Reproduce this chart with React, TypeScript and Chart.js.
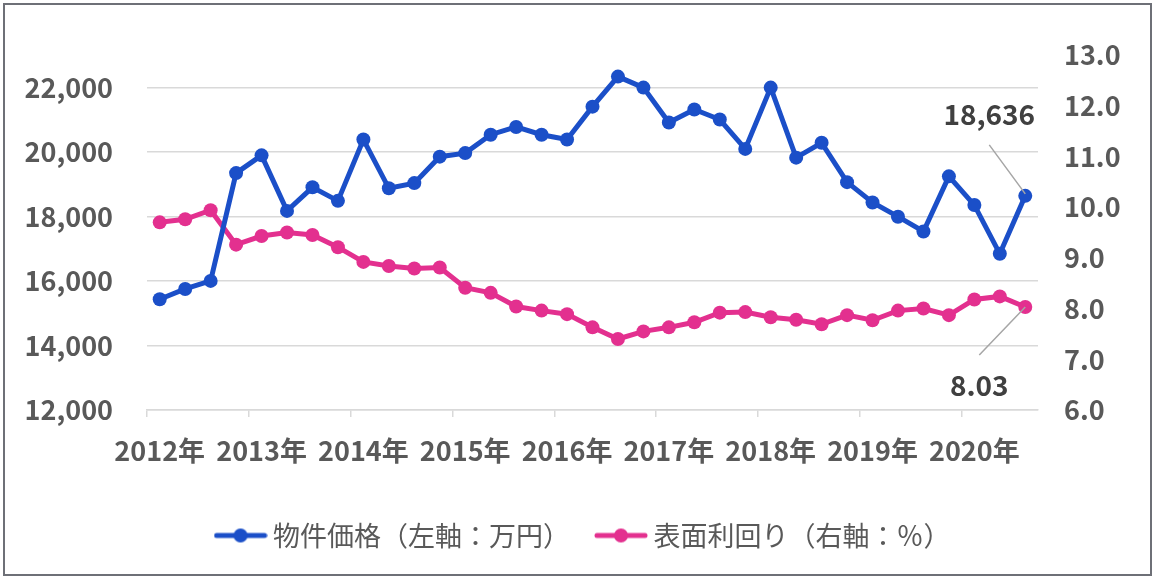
import React, { useEffect, useRef } from "react";
import { Chart, registerables } from "chart.js";

Chart.register(...registerables);

// ---- data ----
const categories = [
  "2012Q1", "2012Q2", "2012Q3", "2012Q4",
  "2013Q1", "2013Q2", "2013Q3", "2013Q4",
  "2014Q1", "2014Q2", "2014Q3", "2014Q4",
  "2015Q1", "2015Q2", "2015Q3", "2015Q4",
  "2016Q1", "2016Q2", "2016Q3", "2016Q4",
  "2017Q1", "2017Q2", "2017Q3", "2017Q4",
  "2018Q1", "2018Q2", "2018Q3", "2018Q4",
  "2019Q1", "2019Q2", "2019Q3", "2019Q4",
  "2020Q1", "2020Q2", "2020Q3",
];

const yearLabels = ["2012年", "2013年", "2014年", "2015年", "2016年", "2017年", "2018年", "2019年", "2020年"];

const leftTicks = [12000, 14000, 16000, 18000, 20000, 22000];
const rightTicks = [6, 7, 8, 9, 10, 11, 12, 13];

const priceValues = [
  15430, 15750, 16000, 19340, 19890, 18170, 18900, 18480,
  20380, 18870, 19030, 19850, 19960, 20530, 20770, 20530,
  20380, 21400, 22330, 21990, 20910, 21310, 21000, 20090,
  21990, 19820, 20280, 19060, 18430, 17990, 17530, 19240,
  18350, 16840, 18636,
];

const yieldValues = [
  9.70, 9.76, 9.94, 9.26, 9.43, 9.50, 9.45, 9.21,
  8.92, 8.84, 8.79, 8.81, 8.41, 8.31, 8.04, 7.96,
  7.89, 7.63, 7.40, 7.55, 7.63, 7.73, 7.92, 7.93,
  7.83, 7.78, 7.69, 7.87, 7.77, 7.96, 8.00, 7.87,
  8.18, 8.24, 8.03,
];

const seriesNames = ["物件価格（左軸：万円）", "表面利回り（右軸：％）"];

const BLUE = "#1B4FC8";
const PINK = "#E3308F";
const GRID = "#D9D9D9";
const TEXT = "#595959";
const FONT = "'Noto Sans CJK JP', 'Noto Sans', sans-serif";

function makeMarker(color: string): HTMLCanvasElement {
  const c = document.createElement("canvas");
  c.width = 54;
  c.height = 16;
  const ctx = c.getContext("2d")!;
  ctx.strokeStyle = color;
  ctx.lineWidth = 5;
  ctx.lineCap = "round";
  ctx.beginPath();
  ctx.moveTo(3, 8);
  ctx.lineTo(51, 8);
  ctx.stroke();
  ctx.fillStyle = color;
  ctx.beginPath();
  ctx.arc(27, 8, 7, 0, Math.PI * 2);
  ctx.fill();
  return c;
}

const lastLabelPlugin = {
  id: "lastLabels",
  afterDatasetsDraw(chart: any) {
    const ctx = chart.ctx;
    const m0 = chart.getDatasetMeta(0);
    const m1 = chart.getDatasetMeta(1);
    const p0 = m0.data[m0.data.length - 1];
    const p1 = m1.data[m1.data.length - 1];
    const v0 = priceValues[priceValues.length - 1];
    const v1 = yieldValues[yieldValues.length - 1];
    ctx.save();
    ctx.strokeStyle = "#A6A6A6";
    ctx.lineWidth = 1.5;
    ctx.beginPath();
    ctx.moveTo(p0.x - 36, p0.y - 51);
    ctx.lineTo(p0.x, p0.y - 2);
    ctx.moveTo(p1.x - 46, p1.y + 48);
    ctx.lineTo(p1.x, p1.y);
    ctx.stroke();
    ctx.fillStyle = "#404040";
    ctx.font = `bold 28px ${FONT}`;
    ctx.textAlign = "center";
    ctx.textBaseline = "middle";
    ctx.fillText(v0.toLocaleString("en-US"), p0.x - 36, p0.y - 81);
    ctx.fillText(v1.toFixed(2), p1.x - 46, p1.y + 78);
    ctx.restore();
  },
};

export default function App() {
  const ref = useRef<HTMLCanvasElement>(null);

  useEffect(() => {
    if (!ref.current) return;
    const markers = [makeMarker(BLUE), makeMarker(PINK)];
    const tickFont = { family: FONT, size: 27, weight: "bold" as const };
    const xTickColor = (c: any) =>
      c.type === "tick" && c.index % 4 === 0 ? GRID : "rgba(0,0,0,0)";

    const chart = new Chart(ref.current, {
      type: "line",
      data: {
        labels: categories,
        datasets: [
          {
            label: seriesNames[0],
            data: priceValues,
            yAxisID: "y",
            borderColor: BLUE,
            backgroundColor: BLUE,
            borderWidth: 5,
            pointRadius: 7,
            pointBorderWidth: 0,
            pointBackgroundColor: BLUE,
            tension: 0,
          },
          {
            label: seriesNames[1],
            data: yieldValues,
            yAxisID: "y1",
            borderColor: PINK,
            backgroundColor: PINK,
            borderWidth: 5,
            pointRadius: 7,
            pointBorderWidth: 0,
            pointBackgroundColor: PINK,
            tension: 0,
          },
        ],
      },
      options: {
        responsive: false,
        animation: false,
        devicePixelRatio: 1,
        layout: { padding: { left: 16, right: 0, top: 55, bottom: 21 } },
        plugins: {
          legend: {
            position: "bottom",
            labels: {
              usePointStyle: true,
              pointStyleWidth: 38,
              boxHeight: 27,
              padding: 32,
              color: TEXT,
              font: { family: FONT, size: 27, weight: "normal" },
              generateLabels: (ch: any) => {
                const items = Chart.defaults.plugins.legend.labels.generateLabels(ch);
                return items.map((it: any, i: number) => ({ ...it, pointStyle: markers[i] }));
              },
            },
          },
          tooltip: { enabled: false },
        },
        scales: {
          x: {
            type: "category",
            offset: true,
            grid: {
              offset: true,
              drawOnChartArea: false,
              tickLength: 7,
              lineWidth: 1.5,
              color: xTickColor,
              tickColor: xTickColor,
            },
            border: { color: GRID, width: 1.5 },
            ticks: {
              autoSkip: false,
              maxRotation: 0,
              minRotation: 0,
              padding: 18,
              color: TEXT,
              font: tickFont,
              callback: (_v: any, i: number) => (i % 4 === 0 ? yearLabels[i / 4] : ""),
            },
            afterFit: (s: any) => {
              s.height = 80;
            },
          },
          y: {
            position: "left",
            min: 12000,
            max: 23000,
            grid: { color: GRID, lineWidth: 1.5, drawTicks: false },
            border: { display: false },
            ticks: {
              padding: 34,
              color: TEXT,
              font: tickFont,
              callback: (v: any) => Number(v).toLocaleString("en-US"),
            },
            afterBuildTicks: (s: any) => {
              s.ticks = leftTicks.map((v) => ({ value: v }));
            },
            afterFit: (s: any) => {
              s.width = 131;
            },
          },
          y1: {
            position: "right",
            min: 6,
            max: 13,
            grid: { display: false, drawTicks: false },
            border: { display: false },
            ticks: {
              padding: 26,
              color: TEXT,
              font: tickFont,
              callback: (v: any) => Number(v).toFixed(1),
            },
            afterBuildTicks: (s: any) => {
              s.ticks = rightTicks.map((v) => ({ value: v }));
            },
            afterFit: (s: any) => {
              s.width = 118;
            },
          },
        },
      },
      plugins: [lastLabelPlugin],
    } as any);

    return () => chart.destroy();
  }, []);

  return (
    <div style={{ position: "absolute", left: 0, top: 0, width: 1156, height: 580, background: "#fff" }}>
      <div
        style={{
          position: "absolute",
          left: 3,
          top: 3,
          width: 1149,
          height: 573,
          boxSizing: "border-box",
          border: "2px solid #6E7077",
        }}
      />
      <canvas ref={ref} width={1156} height={580} style={{ position: "absolute", left: 0, top: 0 }} />
    </div>
  );
}
